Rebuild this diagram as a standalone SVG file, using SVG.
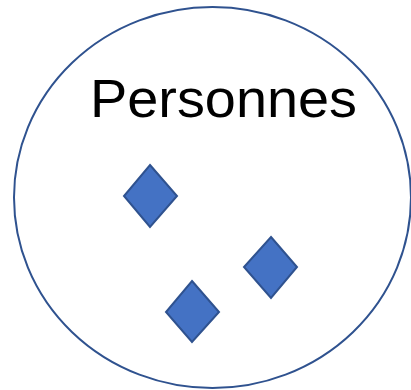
<svg xmlns="http://www.w3.org/2000/svg" width="411" height="390" viewBox="0 0 411 390">
<style>
.ring{fill:#fff;stroke:#2F528F;stroke-width:2}
.gem{fill:#4472C4;stroke:#2F528F;stroke-width:2;stroke-linejoin:miter}
.lbl{font-family:"Liberation Sans",Arial,sans-serif;font-size:54px;fill:#000}
</style>
<rect width="411" height="390" fill="#fff"/>
<g id="personnes">
<ellipse class="ring" cx="212.5" cy="197.5" rx="198.5" ry="190.5"/>
<text class="lbl" x="90" y="117" textLength="267" lengthAdjust="spacingAndGlyphs">Personnes</text>
</g>
<g id="p1"><polygon class="gem" points="150,165 177,196 150,227 124,196"/></g>
<g id="p2"><polygon class="gem" points="271,237 297,267 271,298 244,267"/></g>
<g id="p3"><polygon class="gem" points="192,281 219,312 192,342 166,312"/></g>
<g id="connectors"/>
</svg>
